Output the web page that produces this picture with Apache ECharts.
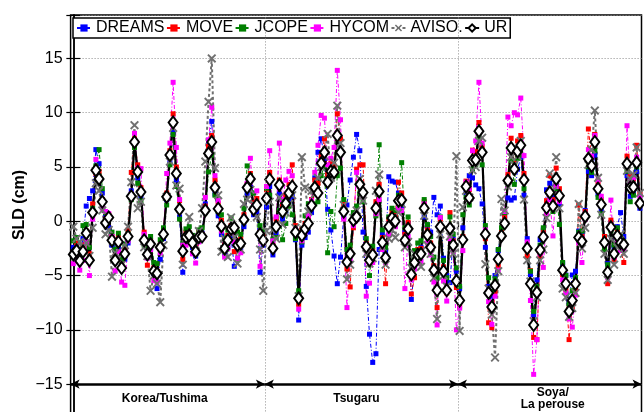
<!DOCTYPE html>
<html>
<head>
<meta charset="utf-8">
<script src="https://cdn.jsdelivr.net/npm/echarts@6/dist/echarts.min.js"></script>
<style>
  html, body { margin: 0; padding: 0; background: #fff; }
  #chart { width: 644px; height: 412px; }
</style>
</head>
<body>
<div id="chart"></div>
<script>
// Monthly sea level difference (cm) across three straits, one value per month
const seriesNames = ['DREAMS', 'MOVE', 'JCOPE', 'HYCOM', 'AVISO.', 'UR'];

const dreams = [
  -2.4,-2.2,-3.2,-1.6,1.4,2.1,2.8,6.6,5.3,2.6,
  0.5,-0.6,-2.2,-3.75,-2.4,-4.4,-3.5,-2.0,2.8,7.0,
  4.0,2.2,-1.5,-2.8,-2.5,-4.8,-6.2,-3.5,-1.6,2.0,
  5.4,8.2,3.8,0.4,-4.7,-1.8,-1.6,-2.4,-3.2,-1.8,
  -1.1,1.6,7.4,9.2,2.5,0.5,-1.2,-3.0,-2.4,-1.5,
  -4.15,-2.6,-2.4,-0.5,2.6,3.1,0.6,0.9,-4.7,-2.2,
  1.3,3.2,-3.1,-1.1,2.5,0.2,0.9,1.9,2.3,-1.7,
  -9.1,-2.2,-1.5,-1.0,0.8,4.0,6.35,7.6,5.8,1.1,
  -0.8,-3.2,-5.75,-3.3,0.4,1.5,3.8,5.9,8.0,6.5,
  -1.0,-6.0,-10.4,-13.0,-12.2,-2.6,-1.2,-2.8,4.1,3.7,
  3.6,2.6,1.4,-1.0,-0.2,-7.2,-4.2,-3.6,-2.4,0.4,
  -0.4,-1.0,2.2,0.6,1.4,-3.4,-5.0,-5.65,-1.6,-4.6,
  -6.2,-0.6,2.6,4.2,4.0,3.35,3.0,1.6,-2.4,-6.0,
  -6.9,-5.0,-2.7,-0.8,0.5,2.15,1.95,2.15,4.8,5.9,
  2.4,-1.6,-4.9,-8.6,-5.4,-1.7,-0.8,2.9,3.5,2.2,
  3.2,1.6,-3.9,-4.95,-7.4,-4.95,-4.6,-0.9,-1.2,1.0,
  4.6,4.2,6.1,2.5,1.0,-1.4,-3.9,-0.1,-2.4,-0.5,
  0.8,-1.4,4.2,2.3,2.7,4.6,1.2
];

const move = [
  -2.9,-2.0,-3.3,-2.2,-0.9,-3.0,1.6,4.4,4.6,2.0,
  0.2,0.6,-1.4,-3.2,-1.5,-3.9,-2.6,-0.8,4.5,7.6,
  5.2,3.1,-1.0,-4.05,-1.8,-4.3,-4.6,-2.2,-0.8,2.6,
  6.5,9.9,5.0,1.9,-3.5,-1.0,-1.1,-1.6,-2.4,-1.0,
  -1.2,1.4,6.9,7.9,3.8,1.6,0.1,-2.2,-1.3,-0.4,
  -2.8,-1.8,-1.6,0.6,3.4,4.4,1.7,2.1,-1.0,-1.3,
  2.9,4.5,-2.2,0.2,3.8,1.4,2.4,3.4,5.2,-0.4,
  -7.65,-0.8,-0.2,0.4,2.0,3.8,3.5,6.0,7.6,4.3,
  5.3,5.1,9.9,7.6,1.6,-4.4,-6.05,-0.6,4.8,5.2,
  5.2,-2.0,-3.2,-2.7,1.8,3.4,-1.5,-5.75,0.2,0.9,
  0.6,3.6,2.6,-1.2,-0.1,-6.7,-5.2,-2.6,-2.5,1.8,
  -0.8,-2.0,-4.1,-7.95,0.2,-4.2,-6.6,0.8,-1.8,-6.1,
  -7.9,-1.4,3.7,2.9,6.55,6.4,9.1,6.9,-1.6,-9.35,
  -9.8,-6.5,-4.1,-1.0,0.4,4.3,7.65,5.5,7.4,7.9,
  4.4,-3.2,-4.55,-10.7,-10.9,-3.2,-0.9,1.9,4.2,2.0,
  4.9,3.0,-4.9,-6.3,-10.9,-7.9,-6.2,1.5,-1.4,0.9,
  8.5,5.9,8.0,3.6,2.0,-1.4,-5.75,0.1,-3.5,-0.8,
  -2.6,-3.8,6.0,4.2,3.9,7.0,2.5
];

const jcope = [
  -1.8,-1.5,-2.6,-0.4,-0.3,-2.4,1.2,5.1,6.6,3.0,
  0.8,0.4,-1.0,-2.6,-1.1,-3.5,-2.1,-1.15,2.0,6.8,
  3.5,1.9,-2.2,-2.5,-1.4,-3.8,-3.9,-1.7,-0.6,1.5,
  5.2,8.0,3.2,0.2,-2.0,-0.7,-0.5,-1.3,-3.0,-0.8,
  -0.6,0.8,4.55,6.1,2.4,0.9,0.6,-1.6,-0.8,0.3,
  -0.5,-1.0,-1.2,1.2,5.1,4.2,2.6,1.3,-0.4,-0.9,
  3.05,2.4,-1.65,-1.5,1.0,-1.7,-0.2,1.4,0.6,-1.6,
  -6.4,-1.9,0.5,1.6,1.6,1.6,1.8,4.2,5.1,-2.9,
  0.9,-0.5,4.2,4.9,2.0,-2.6,-2.2,0.8,1.4,2.6,
  1.8,-1.6,-5.0,-2.3,0.5,7.05,-0.8,-2.4,0.4,1.2,
  1.0,2.4,5.4,-0.6,0.4,-3.8,-2.7,-2.0,-1.8,2.0,
  -0.3,-1.4,-3.3,-5.2,0.4,-3.6,-5.2,0.4,-1.2,-4.3,
  -6.0,0.6,2.2,1.5,4.8,5.2,7.8,5.2,-0.4,-5.2,
  -6.5,-5.3,-2.6,-0.6,0.8,3.4,5.6,3.4,5.8,6.1,
  3.0,-2.2,-4.6,-8.3,-6.0,-2.2,-0.6,1.0,2.1,0.9,
  3.0,-0.3,-3.8,-5.0,-7.6,-6.4,-5.2,-1.0,-0.9,0.2,
  5.0,4.5,6.5,2.2,0.7,-2.6,-4.0,-0.9,-2.2,-0.6,
  -1.4,-1.9,4.6,1.8,2.4,5.0,1.8
];

const hycom = [
  -3.9,-3.3,-4.5,-3.6,-1.9,-5.0,0.2,5.7,4.0,1.2,
  0.9,0.7,-1.4,-4.6,-2.8,-5.6,-5.9,-1.8,2.5,8.1,
  4.9,4.85,-1.2,-3.4,-2.6,-5.45,-5.6,-2.9,-1.1,4.4,
  7.2,12.8,6.8,2.0,-2.2,-2.2,-1.8,-3.0,-3.85,-1.9,
  -1.6,2.2,7.5,10.5,4.2,1.9,-0.9,-3.3,-2.5,-1.1,
  -1.9,-3.4,-2.9,0.3,3.5,5.8,1.4,2.8,-4.15,-2.0,
  3.2,6.5,-1.8,0.4,7.2,2.0,3.8,4.6,4.2,-0.7,
  -8.1,-1.8,-1.0,0.5,1.9,4.5,7.0,9.75,9.5,5.2,
  5.8,6.8,13.9,9.35,0.2,-7.95,-3.6,-0.4,4.5,3.2,
  2.2,-6.9,-5.7,-3.8,0.7,2.0,-2.6,-3.8,-1.2,-0.4,
  -0.5,1.2,1.0,-6.2,-1.4,-5.4,-4.4,-3.9,-3.7,1.6,
  -2.0,-3.1,-5.6,-9.55,0.35,-5.5,-7.35,-1.6,-2.8,-10.0,
  -8.0,-2.7,3.6,3.0,6.5,7.4,12.8,7.2,-0.8,-7.4,
  -9.5,-6.9,-4.5,-1.2,0.9,9.6,8.8,10.0,9.8,11.35,
  6.05,-1.9,-7.3,-14.1,-10.9,-3.0,-4.25,0.7,2.0,-1.35,
  3.2,1.8,-5.4,-6.6,-9.0,-9.75,-6.8,-2.0,-3.8,0.2,
  6.6,6.0,7.9,3.8,2.3,-1.8,-5.2,1.95,-3.3,-1.8,
  -2.7,-2.5,8.8,3.7,4.0,5.9,2.3
];

const aviso = [
  -0.5,-1.6,-1.9,-2.4,-2.0,-3.2,-0.6,3.5,2.8,1.0,
  -1.2,-0.8,-5.1,-2.9,-3.4,-4.0,-2.2,-0.5,3.6,8.85,
  1.2,1.8,-2.4,-3.2,-6.4,-5.0,-5.75,-7.45,-2.2,2.25,
  5.5,8.6,3.3,3.0,-4.0,-1.5,0.4,-1.8,-2.2,-0.9,
  1.2,5.5,11.0,15.0,4.9,2.4,-2.8,-1.6,-3.3,0.35,
  -1.5,-3.9,-2.6,1.6,2.0,2.9,1.6,0.4,-2.6,-6.4,
  -0.9,1.8,-0.8,-1.6,2.2,-0.3,0.8,1.6,2.4,-0.6,
  -6.9,5.9,3.1,0.9,2.8,2.5,4.0,5.0,6.0,8.05,
  4.0,5.4,10.65,7.2,1.5,-5.35,-4.0,0.3,1.0,3.9,
  1.9,-3.0,-3.9,-3.4,2.8,4.3,-2.4,-4.0,-1.6,-0.8,
  -1.5,0.8,1.6,-2.4,-1.9,-4.3,-3.0,-3.6,-4.2,0.5,
  -2.2,-3.0,-5.2,-9.0,-1.2,-5.0,-6.0,-1.4,-3.0,6.0,
  -10.1,1.3,2.8,2.2,4.7,5.0,7.4,7.7,-3.95,-6.2,
  -8.6,-12.55,-4.6,2.05,1.0,3.2,5.9,5.2,6.0,7.4,
  2.0,-3.6,-5.55,-9.2,-7.0,-3.6,-2.6,0.3,4.4,2.8,
  5.9,1.2,-6.2,-7.0,-8.8,-8.0,-6.6,1.6,-2.5,-0.6,
  5.2,6.6,10.2,4.0,0.6,-3.0,-5.4,-1.6,-4.0,-2.4,
  -1.2,-3.0,4.65,3.9,4.3,6.8,2.6
];

const ur = [
  -3.05,-2.7,-3.65,-2.8,-1.1,-3.6,0.8,4.7,3.9,1.8,
  -0.15,0.35,-1.75,-3.6,-1.9,-4.3,-3.0,-1.4,2.3,7.3,
  4.55,2.7,-1.75,-3.05,-2.1,-4.6,-4.8,-2.4,-1.2,2.25,
  6.1,9.1,4.4,1.1,-2.75,-1.45,-1.3,-2.0,-2.8,-1.45,
  -1.4,1.0,6.25,7.3,3.1,1.15,-0.45,-2.5,-1.75,-0.7,
  -0.6,-2.2,-2.05,0.15,3.1,3.9,1.1,1.5,-1.2,-1.75,
  2.1,3.85,-2.5,-0.5,3.35,0.9,1.65,2.6,3.2,-1.0,
  -7.1,-1.3,-0.7,-0.2,1.45,3.1,2.6,5.35,6.35,3.6,
  4.6,4.5,7.9,6.35,0.9,-3.75,-3.0,0.1,0.4,3.4,
  2.65,-2.35,-3.6,-3.1,1.2,2.75,-1.95,-3.35,-0.5,0.3,
  0.0,1.9,1.95,-1.75,-0.7,-4.9,-3.8,-3.1,-3.0,1.2,
  -1.25,-2.4,-4.5,-6.35,-0.5,-4.6,-6.35,-0.65,-2.2,-5.5,
  -7.3,-1.7,3.2,2.15,5.6,5.65,8.3,6.35,-1.2,-6.6,
  -7.9,-5.9,-3.5,-1.35,-0.2,3.75,6.75,4.8,6.45,7.0,
  3.8,-2.5,-5.75,-9.55,-6.55,-2.65,-1.45,1.25,2.65,1.4,
  3.9,2.35,-4.5,-5.75,-8.3,-7.3,-5.75,-1.5,-1.85,0.45,
  5.75,5.1,7.3,3.0,1.55,-1.95,-4.7,-0.55,-3.0,-1.35,
  -2.0,-2.15,5.3,3.1,3.15,5.4,1.65
];

// Strait names and the month-index limits of each block
const regions = ['Korea/Tushima', 'Tsugaru', 'Soya/\nLa perouse'];
const regionBounds = [-0.85, 59.5, 119.5, 176.5];
const yTickLabels = [-15, -10, -5, 0, 5, 10, 15];

const FONT = '"Liberation Sans", Arial, Helvetica, sans-serif';
const toPoints = arr => arr.map((v, i) => [i, v]);
const dashDot = [4, 2, 1, 2];
const crossPath = 'path://M0,1.5L3.5,-2L5,-0.5L1.5,3L5,6.5L3.5,8L0,4.5L-3.5,8L-5,6.5L-1.5,3L-5,-0.5L-3.5,-2Z';
const labelShift = [[-3, 0], [-5, 0], [3, 0]];

function modelSeries(name, values, color) {
  return {
    name, type: 'line', data: toPoints(values),
    symbol: 'rect', symbolSize: 5,
    itemStyle: { color },
    lineStyle: { color, width: 1, type: dashDot },
    emphasis: { disabled: true }, silent: true
  };
}

const chart = echarts.init(document.getElementById('chart'), null, { renderer: 'canvas' });

const dreamsSeries = modelSeries('DREAMS', dreams, '#0000ff');
dreamsSeries.markLine = {
  silent: true, symbol: 'none', animation: false,
  label: { show: false },
  lineStyle: { color: '#8c8c8c', width: 1, type: [1, 2] },
  data: [{ xAxis: regionBounds[1] }, { xAxis: regionBounds[2] }]
};

const urSeries = {
  name: 'UR', type: 'line', data: toPoints(ur),
  symbol: 'diamond', symbolSize: [9, 12],
  itemStyle: { color: '#ffffff', borderColor: '#000000', borderWidth: 2 },
  lineStyle: { color: '#000000', width: 2.2 },
  emphasis: { disabled: true }, silent: true,
  markLine: {
    silent: true, animation: false,
    symbol: ['arrow', 'arrow'], symbolSize: [7, 9],
    lineStyle: { color: '#000000', width: 2.5, type: 'solid' },
    label: {
      show: true, position: 'insideMiddleBottom', formatter: '{b}',
      fontFamily: FONT, fontSize: 12, fontWeight: 'bold', color: '#000',
      distance: 9, lineHeight: 11.5
    },
    data: regions.map((name, k) => [
      { coord: [regionBounds[k], -15], name,
        label: { distance: k === 2 ? 3 : 9, offset: labelShift[k] } },
      { coord: [regionBounds[k + 1], -15] }
    ])
  }
};

const option = {
  animation: false,
  backgroundColor: '#ffffff',
  textStyle: { fontFamily: FONT },
  grid: {
    left: 70.6, top: 15, width: 570.9, height: 423.4,
    outerBoundsMode: 'none',
    show: true, borderColor: '#000000', borderWidth: 1.5
  },
  legend: {
    left: 73, top: 18,
    itemWidth: 14, itemHeight: 9, itemGap: 1.5,
    padding: [2, 3, 2, 3],
    borderColor: '#000000', borderWidth: 1.5, backgroundColor: '#ffffff',
    textStyle: { fontSize: 16, color: '#000000', fontFamily: FONT },
    data: seriesNames,
    selectedMode: false
  },
  xAxis: [{
    type: 'value', min: regionBounds[0], max: regionBounds[3],
    axisLine: { show: false }, axisTick: { show: false },
    axisLabel: { show: false }, splitLine: { show: false }
  }, {
    type: 'value', position: 'top', min: regionBounds[0], max: regionBounds[3],
    axisLine: { show: false },
    axisTick: { show: true, inside: true, length: 6, customValues: [regionBounds[1], regionBounds[2]],
      lineStyle: { color: '#000', width: 1.2 } },
    axisLabel: { show: false }, splitLine: { show: false }
  }],
  yAxis: [{
    type: 'value', min: -20, max: 19, interval: 5,
    axisLine: { show: true, lineStyle: { color: '#000', width: 1.5 } },
    axisTick: { show: true, inside: true, length: 7, lineStyle: { color: '#000', width: 1.2 } },
    axisLabel: {
      fontSize: 16, color: '#000', fontFamily: FONT, margin: 8,
      formatter: v => yTickLabels.includes(v) ? String(v).replace('-', '\u2212') : ''
    },
    splitLine: { show: true, lineStyle: { color: '#8c8c8c', width: 1, type: [1, 2] } }
  }, {
    type: 'value', min: -20, max: 19, interval: 5, position: 'right',
    axisLine: { show: true, lineStyle: { color: '#000', width: 1.5 } },
    axisTick: { show: true, inside: true, length: 7, lineStyle: { color: '#000', width: 1.2 } },
    axisLabel: { show: false }, splitLine: { show: false }
  }],
  graphic: [{
    type: 'text', x: 20, y: 205, rotation: Math.PI / 2,
    style: {
      text: 'SLD (cm)', x: 0, y: 0, align: 'center', verticalAlign: 'middle',
      font: 'bold 16px ' + FONT, fill: '#000'
    }
  }],
  series: [
    dreamsSeries,
    modelSeries('MOVE', move, '#ff0000'),
    modelSeries('JCOPE', jcope, '#008000'),
    modelSeries('HYCOM', hycom, '#ff00ff'),
    {
      name: 'AVISO.', type: 'line', data: toPoints(aviso),
      symbol: crossPath, symbolSize: 9,
      itemStyle: { color: '#707070' },
      lineStyle: { color: '#707070', width: 2, type: [3, 2.5] },
      emphasis: { disabled: true }, silent: true
    },
    urSeries
  ]
};

chart.setOption(option);
</script>
</body>
</html>
